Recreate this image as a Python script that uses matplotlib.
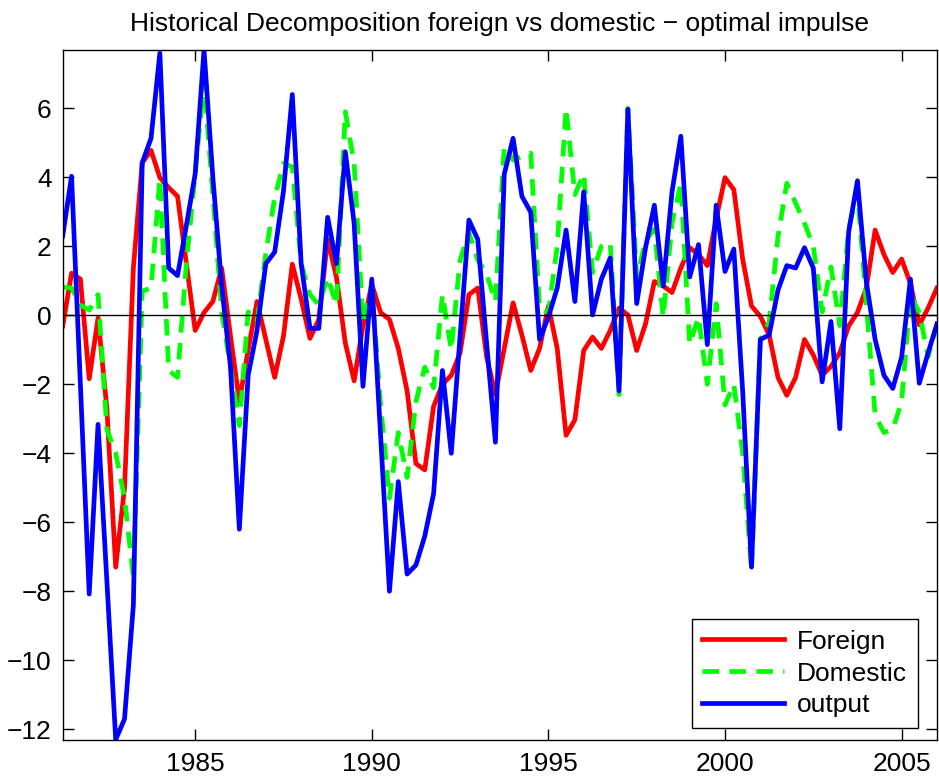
import numpy as np
import matplotlib
matplotlib.use('Agg')
import matplotlib.pyplot as plt

plt.rcParams['font.family'] = ['Liberation Sans', 'DejaVu Sans']

# quarterly dates, 1981Q2 .. 2006Q1
dates = 1981.25 + 0.25 * np.arange(100)

foreign = [-0.31, 1.22, 1.05, -1.84, -0.08, -2.7, -7.3, -5.0, 1.37, 4.42,
           4.78, 3.99, 3.7, 3.45, 1.5, -0.44, 0.08, 0.4, 1.37, -0.6,
           -2.5, -1.0, 0.4, -0.7, -1.8, -0.6, 1.48, 0.47, -0.67, -0.12,
           2.2, 1.1, -0.8, -1.9, -0.3, 0.9, 0.08, -0.12, -0.96, -2.19,
           -4.3, -4.48, -2.64, -2.0, -1.74, -1.09, 0.6, 0.79, -1.2, -2.3,
           -0.96, 0.36, -0.57, -1.6, -0.96, 0.27, -0.96, -3.48, -3.03, -1.02,
           -0.63, -0.96, -0.44, 0.21, 0.01, -1.02, -0.25, 0.98, 0.85, 0.66,
           1.37, 1.96, 1.76, 1.44, 2.8, 3.99, 3.64, 1.63, 0.27, -0.03,
           -0.57, -1.8, -2.32, -1.8, -0.7, -1.15, -1.74, -1.48, -1.09, -0.31,
           0.08, 0.79, 2.47, 1.76, 1.24, 1.63, 0.92, -0.28, 0.21, 0.79]

domestic = [0.82, 0.79, 0.3, 0.15, 0.6, -3.3, -4.0, -5.3, -7.6, 0.7,
            0.79, 3.96, -1.6, -1.8, 1.5, 4.1, 6.8, 3.5, 0.1, -1.5,
            -3.2, 0.1, -0.2, 1.8, 3.4, 4.4, 4.3, 1.5, 0.6, 0.3,
            1.1, 0.3, 5.9, 4.4, -0.2, 0.8, -2.6, -5.3, -3.4, -4.7,
            -2.5, -1.5, -2.1, 0.6, -1.0, 1.6, 2.4, 1.6, 1.2, 0.4,
            4.9, 4.5, 4.6, 4.7, 0.2, 0.08, 2.0, 6.0, 3.5, 4.1,
            1.24, 2.0, 2.1, -2.3, 6.0, 1.1, 2.15, 2.5, -0.05, 2.67,
            3.83, -0.83, -0.05, -2.0, 0.34, -2.6, -2.0, -4.0, -7.4, -0.7,
            -0.2, 2.28, 3.83, 3.25, 2.67, 2.0, 0.1, 1.4, -0.3, 2.5,
            3.6, 0.34, -2.9, -3.4, -3.3, -2.5, 0.6, 0.08, -1.2, -0.3]

output = [2.3, 4.03, -2.0, -8.08, -3.16, -7.7, -12.3, -11.7, -8.4, 4.42,
          5.13, 7.6, 1.37, 1.15, 2.6, 4.1, 7.69, 4.0, 0.85, -1.5,
          -6.2, -1.74, -0.44, 1.5, 1.83, 3.6, 6.4, 1.5, -0.38, -0.38,
          2.84, 1.5, 4.74, 2.67, -2.06, 1.05, -3.5, -8.0, -4.82, -7.5,
          -7.24, -6.4, -5.17, -1.6, -4.0, -0.6, 2.76, 2.2, -0.8, -3.68,
          4.09, 5.13, 3.45, 2.99, -0.7, -0.05, 0.79, 2.47, 0.4, 3.58,
          0.01, 1.05, 1.66, -2.19, 5.97, 0.34, 1.96, 3.19, 0.85, 3.58,
          5.19, 1.11, 2.05, -0.85, 3.19, 1.27, 1.92, -2.2, -7.3, -0.7,
          -0.57, 0.73, 1.44, 1.37, 1.96, 1.37, -1.93, -0.18, -3.29, 2.41,
          3.9, 0.98, -0.7, -1.74, -2.12, -1.22, 1.05, -1.97, -1.09, -0.25]

xticks = [1985, 1990, 1995, 2000, 2005]
yticks = [-12, -10, -8, -6, -4, -2, 0, 2, 4, 6]

fig = plt.figure(figsize=(9.39, 7.81), dpi=100)
ax = fig.add_axes([0.0668, 0.0525, 0.931, 0.8835])

ax.plot(dates, foreign, color='#ff0000', lw=3.4, label='Foreign')
ax.plot(dates, domestic, color='#00ff00', lw=3.4, dashes=(3.5, 2.2), label='Domestic')
ax.plot(dates, output, color='#0000ff', lw=3.4, label='output')
ax.axhline(0, color='black', lw=1)

ax.set_xlim(1981.25, 2006.0)
ax.set_ylim(-12.31, 7.69)
ax.set_xticks(xticks)
ax.set_yticks(yticks)
ax.tick_params(direction='in', length=8, width=1, top=True, right=True,
               labelsize=19, pad=8)
ax.tick_params(axis='x', pad=9)
for s in ax.spines.values():
    s.set_linewidth(1)

ax.set_title('Historical Decomposition foreign vs domestic \u2212 optimal impulse',
             fontsize=19, pad=14)

leg = ax.legend(loc='lower right', bbox_to_anchor=(0.978, 0.0174), fontsize=19,
                fancybox=False, framealpha=1, edgecolor='black',
                handlelength=3.1, handletextpad=0.5, borderaxespad=0,
                labelspacing=0.3, borderpad=0.4)
leg.get_frame().set_linewidth(1)

fig.savefig('out.png', dpi=100)
